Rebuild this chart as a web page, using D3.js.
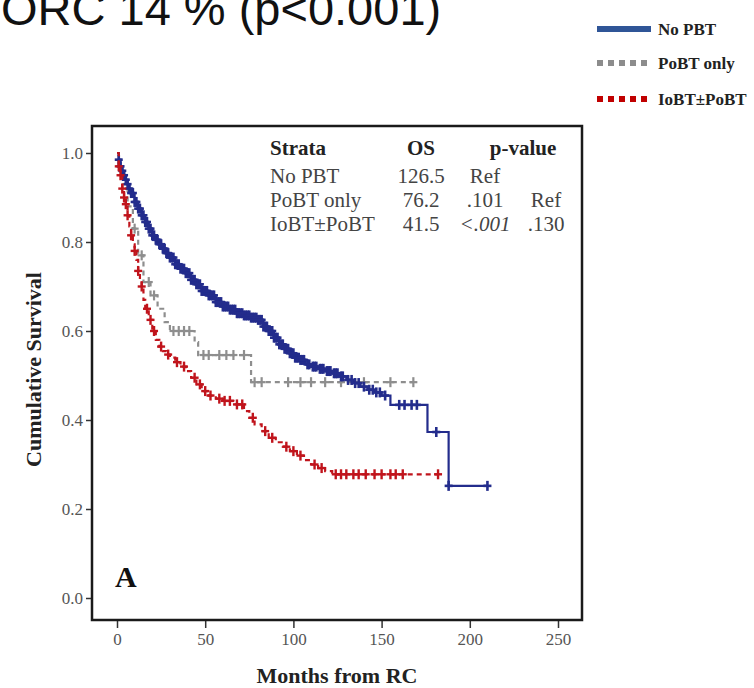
<!DOCTYPE html>
<html>
<head>
<meta charset="utf-8">
<script src="https://cdn.jsdelivr.net/npm/d3@7"></script>
<style>
  body { margin: 0; background: #fff; }
  svg { display: block; }
  text { font-family: "Liberation Serif", "DejaVu Serif", serif; }
</style>
</head>
<body>
<svg id="grafico" width="754" height="688"></svg>
<script>
// Kaplan-Meier steps (months, survival after the drop)
let blueT = [0, 1, 2, 3, 4, 5, 6, 7, 8, 10, 12, 14, 16, 18, 20, 22, 24, 26, 28, 30, 33, 36, 39, 42, 45, 48, 52, 56, 60, 64, 68, 72, 76, 80, 83, 86, 89, 92, 95, 98, 101, 104, 107, 110, 114, 118, 122, 126, 130, 134, 138, 142, 146, 150, 155, 176, 188];
let blueS = [1.0, 0.985, 0.97, 0.96, 0.95, 0.94, 0.93, 0.92, 0.91, 0.89, 0.875, 0.86, 0.845, 0.83, 0.815, 0.805, 0.795, 0.785, 0.775, 0.765, 0.75, 0.74, 0.73, 0.715, 0.705, 0.69, 0.68, 0.665, 0.655, 0.648, 0.64, 0.635, 0.63, 0.625, 0.61, 0.60, 0.585, 0.57, 0.56, 0.55, 0.54, 0.535, 0.525, 0.52, 0.515, 0.51, 0.505, 0.498, 0.49, 0.483, 0.475, 0.468, 0.462, 0.455, 0.434, 0.373, 0.252];
let blueCens = [1, 2, 3, 4, 5, 6, 7, 8, 9, 10, 11, 12, 13, 14, 15, 16, 17, 18, 19, 20, 21, 22, 23, 24, 25, 26, 27, 28, 29, 30, 31, 32, 33, 34, 35, 36, 37, 38, 39, 40, 41, 42, 43, 44, 45, 46, 47, 48, 49, 50, 51, 52, 53, 54, 55, 56, 57, 58, 59, 60, 61, 62, 63, 64, 65, 66, 67, 68, 69, 70, 71, 72, 73, 74, 75, 76, 77, 78, 79, 80, 81, 82, 83, 84, 85, 86, 87, 88, 89, 90, 91, 92, 93, 94, 95, 96, 97, 98, 99, 100, 101, 102, 103, 104, 105, 106, 108, 109, 111, 112, 113, 115, 116, 117, 119, 120, 121, 123, 124, 125, 127, 128, 131, 133, 135, 137, 140, 143, 145, 147, 149, 152, 160, 163, 167, 170, 181, 188, 210];

let grayT = [0, 1, 3, 6, 9, 12, 15, 19, 23, 27, 30, 44, 46, 76];
let grayS = [1.0, 0.97, 0.93, 0.88, 0.83, 0.77, 0.71, 0.68, 0.65, 0.62, 0.60, 0.575, 0.546, 0.485];
let grayCens = [10, 14, 18, 21, 32, 35, 38, 41, 49, 52, 58, 62, 66, 72, 78, 82, 97, 104, 110, 118, 127, 140, 155, 168];

let redT = [0, 1, 2, 3, 4, 5, 6, 7, 8, 9, 10, 11, 12, 13, 14, 15, 16, 18, 20, 22, 24, 26, 28, 30, 33, 36, 39, 42, 45, 48, 52, 56, 60, 66, 72, 75, 78, 82, 86, 90, 94, 98, 102, 106, 110, 114, 118, 122];
let redS = [1.0, 0.97, 0.95, 0.92, 0.90, 0.885, 0.86, 0.835, 0.815, 0.795, 0.78, 0.76, 0.735, 0.715, 0.70, 0.67, 0.65, 0.625, 0.60, 0.58, 0.565, 0.555, 0.547, 0.54, 0.53, 0.52, 0.51, 0.495, 0.48, 0.465, 0.455, 0.448, 0.443, 0.435, 0.42, 0.405, 0.39, 0.375, 0.36, 0.35, 0.34, 0.33, 0.32, 0.31, 0.30, 0.292, 0.285, 0.278];
let redCens = [1, 2, 3, 4, 5, 6, 8, 10, 12, 14, 17, 19, 21, 25, 29, 34, 38, 44, 47, 50, 53, 58, 61, 64, 68, 71, 77, 84, 88, 96, 100, 104, 112, 116, 124, 127, 130, 134, 137, 141, 146, 150, 155, 158, 162, 182];

let xTicks = [0, 50, 100, 150, 200, 250];
let yTicks = [0.0, 0.2, 0.4, 0.6, 0.8, 1.0];

let tabela = [
  ['Strata', 'OS', 'p-value', ''],
  ['No PBT', '126.5', 'Ref', ''],
  ['PoBT only', '76.2', '.101', 'Ref'],
  ['IoBT\u00b1PoBT', '41.5', '<.001', '.130']
];
let legenda = ['No PBT', 'PoBT only', 'IoBT\u00b1PoBT'];

let svg = d3.select('#grafico');

// moldura do grafico
let esq = 92, dir = 582, topo = 126, base = 620;

let fnx = d3.scaleLinear().domain([0, 250]).range([117, 558]);
let fny = d3.scaleLinear().domain([0, 1]).range([598, 153]);

// titulo cortado no topo
svg.append('text')
  .attr('x', 1).attr('y', 25)
  .style('font-family', '"Liberation Sans", Arial, sans-serif')
  .style('font-size', '47px')
  .attr('fill', '#111')
  .text('ORC 14 % (p<0.001)');

// legenda
let series = [
  { nome: legenda[0], cor: '#2f5597', tipo: 'solido' },
  { nome: legenda[1], cor: '#8c8c8c', tipo: 'quadrado' },
  { nome: legenda[2], cor: '#c00000', tipo: 'quadrado' }
];
let legY = [29, 63, 99];
series.forEach((s, i) => {
  let g = svg.append('g').attr('transform', `translate(597, ${legY[i]})`);
  if (s.tipo == 'solido') {
    g.append('rect').attr('x', 0).attr('y', -3).attr('width', 54).attr('height', 6).attr('fill', s.cor);
  } else {
    d3.range(5).forEach(k => {
      g.append('rect').attr('x', k * 11).attr('y', -3).attr('width', 6).attr('height', 6).attr('fill', s.cor);
    });
  }
  g.append('text')
    .attr('x', 61).attr('y', 6)
    .style('font-size', '17px').style('font-weight', 'bold')
    .attr('fill', '#222')
    .text(s.nome);
});

// eixos
let eixoY = svg.append('g')
  .attr('transform', `translate(${esq}, 0)`)
  .call(d3.axisLeft(fny).tickValues(yTicks).tickFormat(d3.format('.1f')).tickSize(6).tickPadding(3));
let eixoX = svg.append('g')
  .attr('transform', `translate(0, ${base})`)
  .call(d3.axisBottom(fnx).tickValues(xTicks).tickSize(8).tickPadding(5));
[eixoY, eixoX].forEach(e => {
  e.select('.domain').remove();
  e.selectAll('line').attr('stroke', '#333').attr('stroke-width', 1.5);
  e.selectAll('text')
    .style('font-family', '"Liberation Serif", serif')
    .style('font-size', '17px')
    .attr('fill', '#555');
});

svg.append('rect')
  .attr('x', esq).attr('y', topo)
  .attr('width', dir - esq).attr('height', base - topo)
  .attr('fill', 'none').attr('stroke', '#1a1a1a').attr('stroke-width', 2.5);

// curvas
let linha = d3.line().curve(d3.curveStepAfter).x(d => fnx(d[0])).y(d => fny(d[1]));
function degrau(T, S, t) {
  let i = d3.bisectRight(T, t) - 1;
  return S[Math.max(0, i)];
}
function curva(T, S, cens, cor, tracejado, esp) {
  let fim = d3.max(cens.concat(T));
  let pts = T.map((t, i) => [t, S[i]]);
  pts.push([fim, degrau(T, S, fim)]);
  svg.append('path')
    .datum(pts)
    .attr('d', linha)
    .attr('fill', 'none')
    .attr('stroke', cor)
    .attr('stroke-width', 2.2)
    .attr('stroke-dasharray', tracejado);
  let g = svg.append('g').attr('stroke', cor).attr('stroke-width', esp);
  g.selectAll('line.v').data(cens).join('line')
    .attr('class', 'v')
    .attr('x1', d => fnx(d)).attr('x2', d => fnx(d))
    .attr('y1', d => fny(degrau(T, S, d)) - 5)
    .attr('y2', d => fny(degrau(T, S, d)) + 5);
  g.selectAll('line.h').data(cens).join('line')
    .attr('class', 'h')
    .attr('x1', d => fnx(d) - 4).attr('x2', d => fnx(d) + 4)
    .attr('y1', d => fny(degrau(T, S, d)))
    .attr('y2', d => fny(degrau(T, S, d)));
}
curva(grayT, grayS, grayCens, '#8e8e8e', '5,4', 2.2);
curva(blueT, blueS, blueCens, '#232c8c', null, 2.6);
curva(redT, redS, redCens, '#c0141c', '5,4', 2.4);

// tabela de estratos
let colX = [270, 421, 485, 546];
let linhaY = [155, 183, 207, 231];
tabela.forEach((row, r) => {
  row.forEach((cel, c) => {
    if (cel == '') return;
    let t = svg.append('text')
      .attr('x', r == 0 && c == 2 ? 523 : colX[c])
      .attr('y', linhaY[r])
      .attr('text-anchor', c == 0 ? 'start' : 'middle')
      .style('font-size', '21px')
      .attr('fill', r == 0 ? '#222' : '#444')
      .style('font-weight', r == 0 ? 'bold' : 'normal')
      .text(cel);
    if (cel == '<.001') t.style('font-style', 'italic');
  });
});

// letra do painel
svg.append('text')
  .attr('x', 115).attr('y', 587)
  .style('font-size', '30px').style('font-weight', 'bold')
  .attr('fill', '#111')
  .text('A');

// titulos dos eixos
svg.append('text')
  .attr('transform', `translate(41, ${(fny(1) + fny(0)) / 2 - 6}) rotate(-90)`)
  .attr('text-anchor', 'middle')
  .style('font-size', '22px').style('font-weight', 'bold')
  .attr('fill', '#222')
  .text('Cumulative Survival');
svg.append('text')
  .attr('x', (esq + dir) / 2).attr('y', 683)
  .attr('text-anchor', 'middle')
  .style('font-size', '22px').style('font-weight', 'bold')
  .attr('fill', '#222')
  .text('Months from RC');
</script>
</body>
</html>
